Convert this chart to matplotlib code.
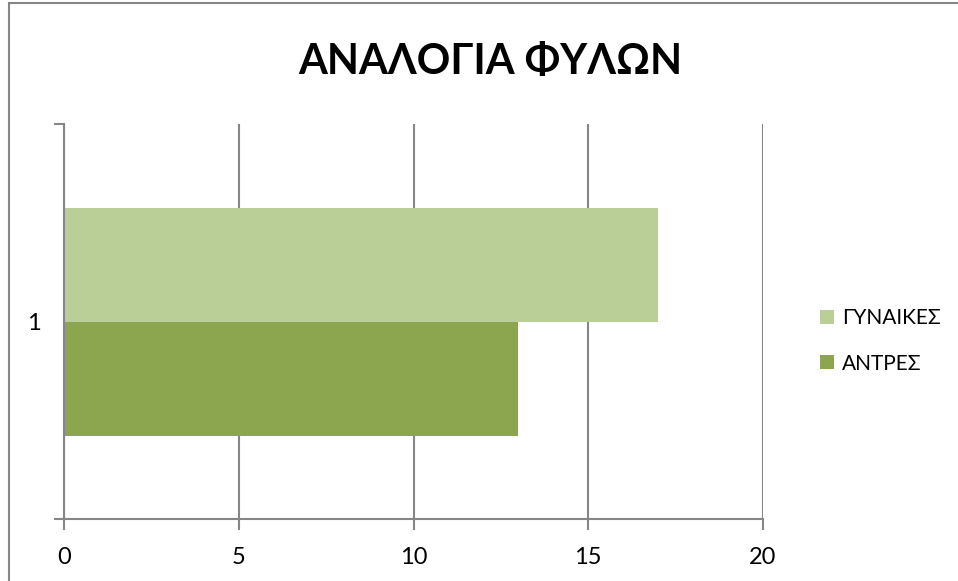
import matplotlib
matplotlib.use("Agg")
import matplotlib.pyplot as plt
from matplotlib.patches import Rectangle

plt.rcParams['font.family'] = ['Lato', 'Open Sans', 'DejaVu Sans']

categories = ['1']
series_names = ['ΑΝΤΡΕΣ', 'ΓΥΝΑΙΚΕΣ']
series_values = [[13], [17]]
colors = ['#8BA64F', '#BACF98']
xticks = [0, 5, 10, 15, 20]
title = 'ΑΝΑΛΟΓΙΑ ΦΥΛΩΝ'

W, H = 958, 581
fig = plt.figure(figsize=(W/100, H/100), dpi=100)
fig.patch.set_facecolor('white')
# chart border
fig.add_artist(Rectangle((9/W, -0.01), (W+20)/W, 1.0 + 0.01 - 3/H, transform=fig.transFigure,
                         fill=False, edgecolor='#868686', linewidth=1.5))

ax = fig.add_axes([64/W, 1-519/H, (763-64)/W, (519-124)/H])
bh = 114/395
for i, (name, vals) in enumerate(zip(series_names, series_values)):
    offset = (-0.5 + i) * bh
    ax.barh([1 + offset + 0.0 * j for j in range(len(vals))], vals, height=bh,
            color=colors[i], label=name, zorder=2)

ax.set_xlim(0, 20)
ax.set_ylim(0.5, 1.5)
ax.set_xticks(xticks)
ax.set_xticklabels([str(t) for t in xticks], fontsize=17)
ax.set_yticks([0.5, 1.5])
ax.set_yticklabels(['', ''])
ax.set_yticks([1], minor=True)
ax.set_yticklabels(categories, minor=True, fontsize=17)
ax.tick_params(axis='y', which='minor', length=0, pad=17)
ax.tick_params(axis='y', which='major', length=7, color='#868686', width=1.5)
ax.tick_params(axis='x', length=8, color='#868686', width=1.5, pad=12)
ax.grid(axis='x', color='#868686', linewidth=1.5, zorder=0)
for s in ['top', 'right']:
    ax.spines[s].set_visible(False)
for s in ['left', 'bottom']:
    ax.spines[s].set_color('#868686')
    ax.spines[s].set_linewidth(1.5)

fig.text(490/W, 1-62/H, title, ha='center', va='center', fontsize=30, fontweight='bold')

handles, labels = ax.get_legend_handles_labels()
leg = fig.legend(handles[::-1], labels[::-1], loc='center left', bbox_to_anchor=(820/W, 1-341/H),
                 frameon=False, fontsize=15, handlelength=0.65, handleheight=0.65,
                 handletextpad=0.4, labelspacing=1.2, borderpad=0, borderaxespad=0)

fig.savefig('out.png', dpi=100)
